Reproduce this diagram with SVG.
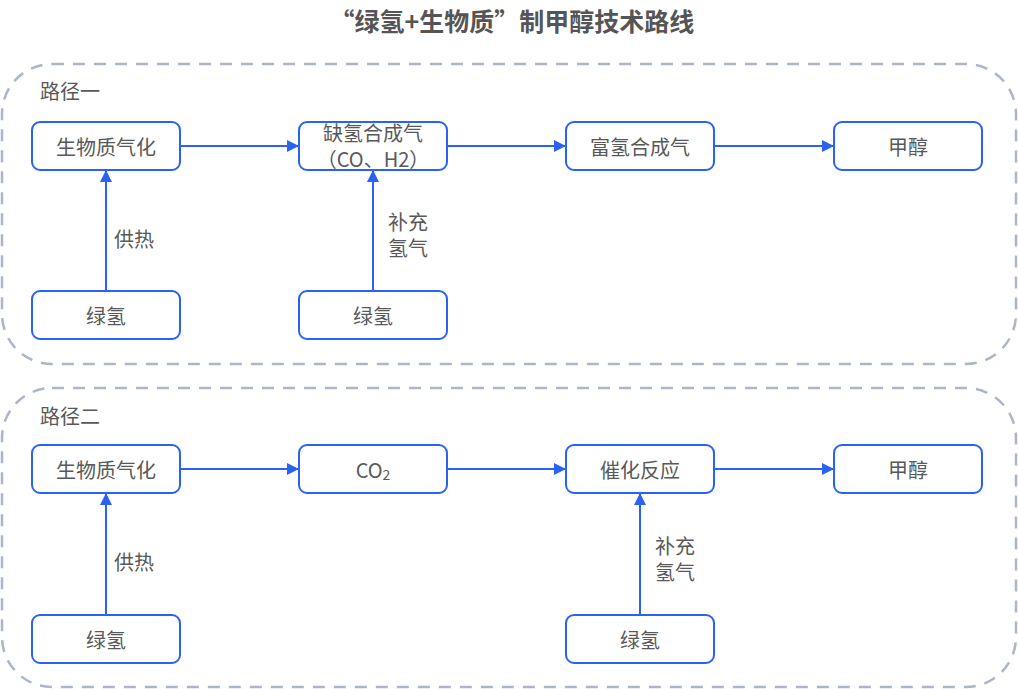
<svg xmlns="http://www.w3.org/2000/svg" width="1018" height="689" viewBox="0 0 1018 689">
<defs>
<style>
.grp{fill:none;stroke:#adb6c8;stroke-width:2.5;stroke-dasharray:12 9}
.box{fill:#fff;stroke:#2962f5;stroke-width:2}
.t{font-family:"Noto Sans CJK SC","Liberation Sans",sans-serif;font-size:20px;fill:#595959;text-anchor:middle;dominant-baseline:central}
.lbl{font-family:"Noto Sans CJK SC","Liberation Sans",sans-serif;font-size:20px;fill:#595959}
.title{font-family:"Noto Sans CJK SC","Liberation Sans",sans-serif;font-size:25px;font-weight:bold;fill:#555;text-anchor:middle}
.c{fill:none;stroke:#2962f5;stroke-width:2;marker-end:url(#ah)}
</style>
<marker id="ah" viewBox="0 0 10 10" refX="10" refY="5" markerWidth="12" markerHeight="12" markerUnits="userSpaceOnUse" orient="auto">
<path d="M0,0 L10,5 L0,10 Z" fill="#2962f5"/>
</marker>
</defs>
<rect width="1018" height="689" fill="#fff"/>
<text class="title" x="512" y="31">“绿氢+生物质”制甲醇技术路线</text>
<g id="route1">
<rect class="grp" x="2" y="64" width="1014" height="300" rx="50"/>
<text class="lbl" x="40" y="99">路径一</text>
</g>
<g id="route2">
<rect class="grp" x="2" y="388" width="1014" height="299" rx="50"/>
<text class="lbl" x="40" y="424">路径二</text>
</g>
<g id="connectors">
<path class="c" d="M180,146 H299"/>
<path class="c" d="M447,146 H566"/>
<path class="c" d="M714,146 H834"/>
<path class="c" d="M106,291 V170"/>
<path class="c" d="M373,291 V170"/>
<path class="c" d="M180,469 H299"/>
<path class="c" d="M447,469 H566"/>
<path class="c" d="M714,469 H834"/>
<path class="c" d="M106,615 V493"/>
<path class="c" d="M640,615 V493"/>
<text class="lbl" x="114" y="247">供热</text>
<text class="lbl" x="388" y="230">补充</text>
<text class="lbl" x="388" y="256">氢气</text>
<text class="lbl" x="114" y="570">供热</text>
<text class="lbl" x="655" y="554">补充</text>
<text class="lbl" x="655" y="580">氢气</text>
</g>
<g id="n1"><rect class="box" x="32" y="122" width="148" height="48" rx="8"/><text class="t" x="106" y="146">生物质气化</text></g>
<g id="n2"><rect class="box" x="299" y="122" width="148" height="48" rx="8"/><text class="t" x="373" y="132">缺氢合成气</text><text class="t" x="373" y="158">（CO、H2）</text></g>
<g id="n3"><rect class="box" x="566" y="122" width="148" height="48" rx="8"/><text class="t" x="640" y="146">富氢合成气</text></g>
<g id="n4"><rect class="box" x="834" y="122" width="148" height="48" rx="8"/><text class="t" x="908" y="146">甲醇</text></g>
<g id="n5"><rect class="box" x="32" y="291" width="148" height="48" rx="8"/><text class="t" x="106" y="315">绿氢</text></g>
<g id="n6"><rect class="box" x="299" y="291" width="148" height="48" rx="8"/><text class="t" x="373" y="315">绿氢</text></g>
<g id="n7"><rect class="box" x="32" y="445" width="148" height="48" rx="8"/><text class="t" x="106" y="469">生物质气化</text></g>
<g id="n8"><rect class="box" x="299" y="445" width="148" height="48" rx="8"/><text class="t" x="373" y="469">CO<tspan font-size="14" dy="5">2</tspan></text></g>
<g id="n9"><rect class="box" x="566" y="445" width="148" height="48" rx="8"/><text class="t" x="640" y="469">催化反应</text></g>
<g id="n10"><rect class="box" x="834" y="445" width="148" height="48" rx="8"/><text class="t" x="908" y="469">甲醇</text></g>
<g id="n11"><rect class="box" x="32" y="615" width="148" height="48" rx="8"/><text class="t" x="106" y="639">绿氢</text></g>
<g id="n12"><rect class="box" x="566" y="615" width="148" height="48" rx="8"/><text class="t" x="640" y="639">绿氢</text></g>
</svg>
